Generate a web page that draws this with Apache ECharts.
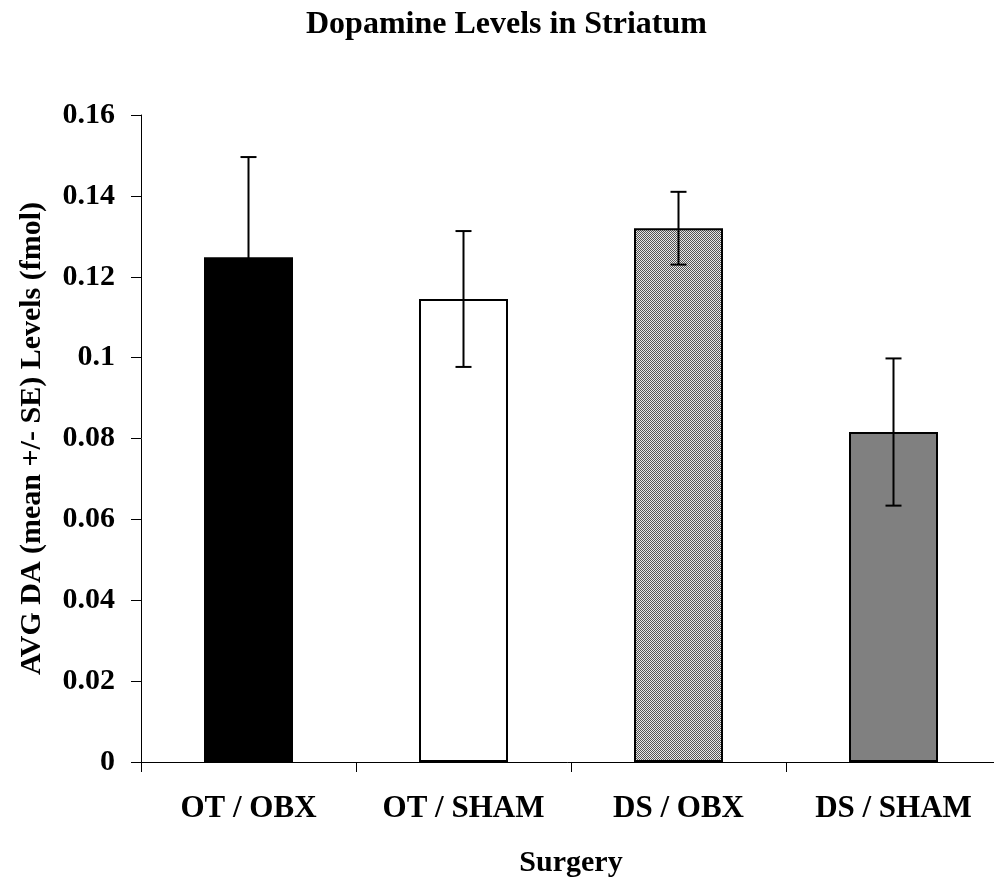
<!DOCTYPE html>
<html>
<head>
<meta charset="utf-8">
<script src="https://cdn.jsdelivr.net/npm/echarts@6/dist/echarts.min.js"></script>
<style>
  html, body { margin: 0; padding: 0; background: #fff; }
  #chart { width: 994px; height: 884px; }
</style>
</head>
<body>
<div id="chart"></div>
<script>
// data
const categories = ["OT / OBX", "OT / SHAM", "DS / OBX", "DS / SHAM"];
const means = [0.1248, 0.1145, 0.1320, 0.0816];
const errors = [0.0248, 0.0168, 0.0090, 0.0182];
const yTicks = [0, 0.02, 0.04, 0.06, 0.08, 0.1, 0.12, 0.14, 0.16];

// fine hatched fill for the DS / OBX bar
function makeHatch() {
    let c = document.createElement("canvas");
    c.width = 4; c.height = 4;
    let ctx = c.getContext("2d");
    ctx.fillStyle = "#e8e8e8";
    ctx.fillRect(0, 0, 4, 4);
    ctx.fillStyle = "#555";
    for (let i = 0; i < 4; i++) {
        ctx.fillRect(i, i, 1, 1);
        ctx.fillRect((i + 2) % 4, i, 1, 1);
    }
    return c;
}

const fills = ["#000000", "#ffffff", { image: makeHatch(), repeat: "repeat" }, "#808080"];

let chart = echarts.init(document.getElementById("chart"));
const serif = "'Liberation Serif', 'Times New Roman', serif";

let option = {
    animation: false,
    title: {
        text: "Dopamine Levels in Striatum",
        left: 301,
        top: 4,
        textStyle: { fontFamily: serif, fontWeight: "bold", fontSize: 32, color: "#000" }
    },
    grid: { left: 141, width: 860, top: 115, height: 647, containLabel: false, outerBoundsMode: "none" },
    xAxis: {
        type: "category",
        data: categories,
        name: "Surgery",
        nameLocation: "middle",
        nameGap: 86,
        nameTextStyle: { fontFamily: serif, fontWeight: "bold", fontSize: 30, color: "#000" },
        axisLine: { lineStyle: { color: "#000", width: 1 } },
        axisTick: { show: true, length: 10, lineStyle: { color: "#000" } },
        axisLabel: { fontFamily: serif, fontWeight: "bold", fontSize: 31, color: "#000", margin: 31 }
    },
    yAxis: {
        type: "value",
        min: 0,
        max: 0.16,
        interval: 0.02,
        name: "AVG DA (mean +/- SE) Levels (fmol)",
        nameLocation: "middle",
        nameRotate: 90,
        nameGap: 94,
        nameTextStyle: { fontFamily: serif, fontWeight: "bold", fontSize: 30, color: "#000" },
        splitLine: { show: false },
        axisLine: { show: true, lineStyle: { color: "#000", width: 1 } },
        axisTick: { show: true, length: 10, lineStyle: { color: "#000" } },
        axisLabel: {
            fontFamily: serif, fontWeight: "bold", fontSize: 30, color: "#000", margin: 26,
            formatter: function (v) {
                let t = yTicks.find(x => Math.abs(x - v) < 1e-9);
                return t === undefined ? "" : String(+t.toFixed(2));
            }
        }
    },
    series: [
        {
            type: "bar",
            barWidth: 89,
            data: means.map((v, i) => ({
                value: v,
                itemStyle: { color: fills[i], borderColor: "#000", borderWidth: i === 0 ? 0 : 2 }
            }))
        },
        {
            type: "custom",
            data: means.map((v, i) => [i, v - errors[i], v + errors[i]]),
            z: 10,
            renderItem: function (params, api) {
                let lo = api.coord([api.value(0), api.value(1)]);
                let hi = api.coord([api.value(0), api.value(2)]);
                let x = lo[0], half = 8;
                let style = { stroke: "#000", lineWidth: 2 };
                return {
                    type: "group",
                    children: [
                        { type: "line", shape: { x1: x, y1: lo[1], x2: x, y2: hi[1] }, style: style },
                        { type: "line", shape: { x1: x - half, y1: hi[1], x2: x + half, y2: hi[1] }, style: style },
                        { type: "line", shape: { x1: x - half, y1: lo[1], x2: x + half, y2: lo[1] }, style: style }
                    ]
                };
            }
        }
    ]
};
chart.setOption(option);
</script>
</body>
</html>
